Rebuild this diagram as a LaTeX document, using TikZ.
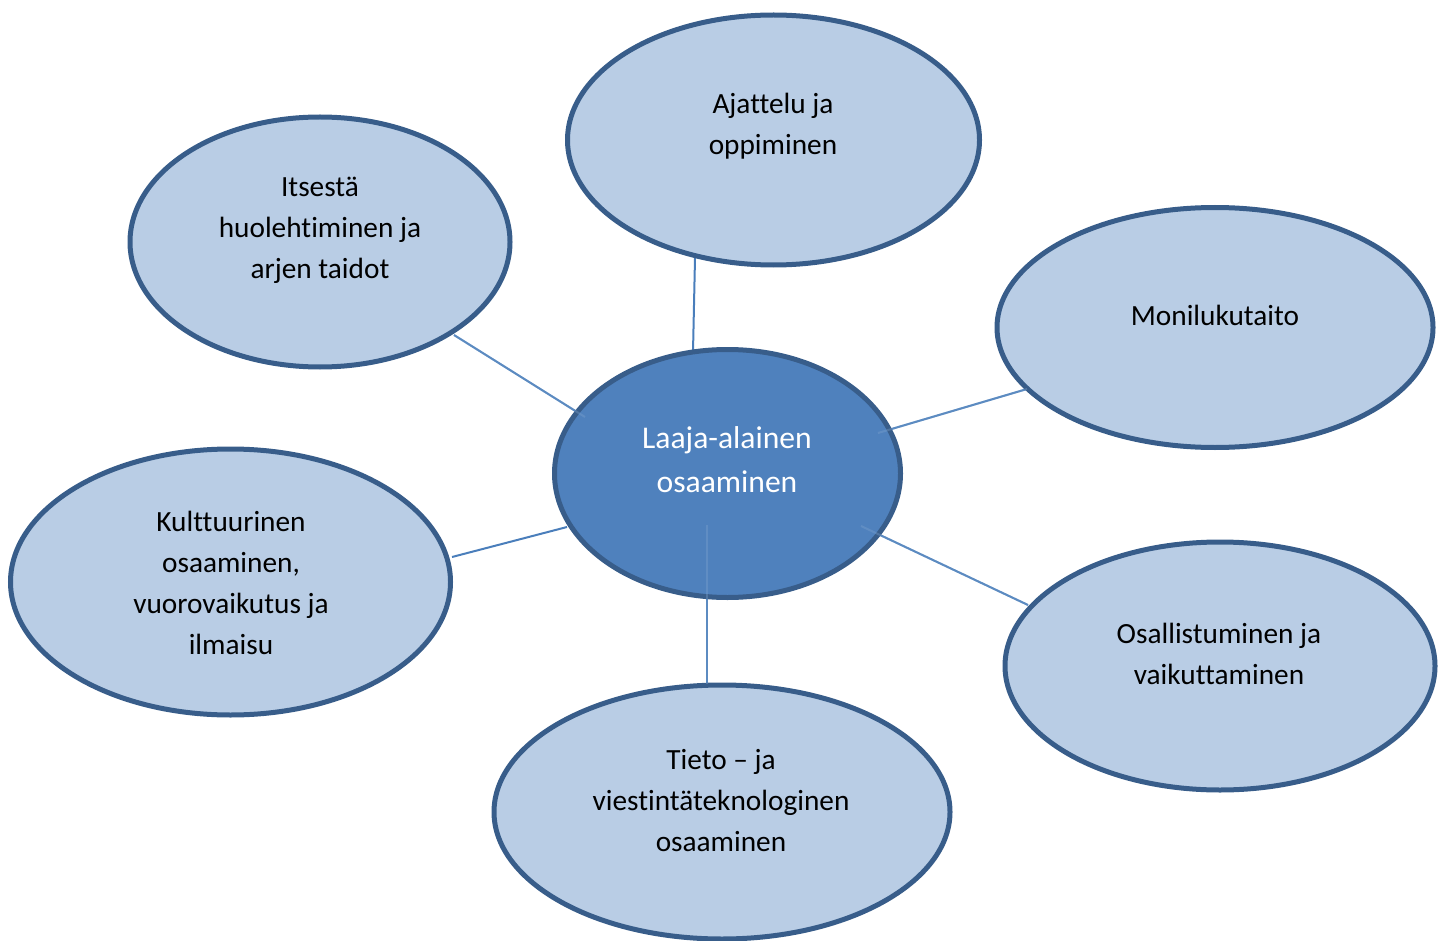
\documentclass[tikz,border=0pt]{standalone}
\usepackage{fontspec}
\setmainfont{Carlito}[Ligatures=NoCommon]
\usetikzlibrary{shapes.geometric}
\definecolor{lightfill}{HTML}{B9CDE5}
\definecolor{rimblue}{HTML}{385D8A}
\definecolor{hubfill}{HTML}{4F81BD}
\definecolor{linkblue}{HTML}{4A7EBB}
\tikzset{
  bubble/.style={ellipse, draw=rimblue, line width=5pt, fill=lightfill, inner sep=0pt},
  hub/.style={ellipse, draw=rimblue, line width=5pt, fill=hubfill, inner sep=0pt},
  label/.style={align=center, inner sep=0pt, font=\fontsize{29.3}{41}\selectfont, text=black},
  hublabel/.style={align=center, inner sep=0pt, font=\fontsize{31.6}{44}\selectfont, text=white},
  link/.style={draw=linkblue, line width=2pt},
  faintlink/.style={draw=linkblue!70!white, line width=2pt, draw opacity=0.35}
}
\begin{document}
\begin{tikzpicture}[x=1pt,y=-1pt]
\useasboundingbox (0,0) rectangle (1442,941);
\clip (0,0) rectangle (1442,941);
% connector end points
\coordinate (s1) at (693,352);
\coordinate (e1) at (695,258);
\coordinate (s2) at (585,417);
\coordinate (e2) at (454,335);
\coordinate (s3) at (878,433);
\coordinate (e3) at (1027,389);
\coordinate (s4) at (567,527);
\coordinate (e4) at (452,557);
\coordinate (s5) at (861,526);
\coordinate (e5) at (1028,605);
\coordinate (s6) at (707,525);
\coordinate (e6) at (707,684);
\draw[link] (s1) -- (e1);
\draw[link] (s2) -- (e2);
\draw[link] (s3) -- (e3);
\draw[link] (s4) -- (e4);
\draw[link] (s5) -- (e5);
\draw[link] (s6) -- (e6);
% outer bubbles
\node[bubble, minimum width=412pt, minimum height=250pt] (ajattelu) at (773.5,140) {};
\node[bubble, minimum width=380pt, minimum height=250pt] (itse) at (320,242) {};
\node[bubble, minimum width=436pt, minimum height=240pt] (moni) at (1215,327.5) {};
\node[bubble, minimum width=440pt, minimum height=266pt] (kult) at (230.5,582) {};
\node[bubble, minimum width=430pt, minimum height=248pt] (osall) at (1220,666) {};
\node[bubble, minimum width=456pt, minimum height=254pt] (tieto) at (722,812) {};
% hub
\node[hub, minimum width=346pt, minimum height=248pt] (hubnode) at (727.5,473.5) {};
% faint continuation of the connectors across the hub
\draw[faintlink] (s2) -- (e2);
\draw[faintlink] (s3) -- (e3);
\draw[faintlink] (s5) -- (e5);
\draw[faintlink] (s6) -- (e6);
% texts
\node[hublabel] (thub) at (727,460) {Laaja-alainen\\osaaminen};
\node[label] (tajattelu) at (773,126.5) {Ajattelu ja\\oppiminen};
\node[label] (titse) at (320,230.5) {Itsestä\\huolehtiminen ja\\arjen taidot};
\node[label] (tmoni) at (1215,315) {Monilukutaito};
\node[label] (tkult) at (231,582.5) {Kulttuurinen\\osaaminen,\\vuorovaikutus ja\\ilmaisu};
\node[label] (tosall) at (1219,653.5) {Osallistuminen ja\\vaikuttaminen};
\node[label] (ttieto) at (721,801) {Tieto – ja\\viestintäteknologinen\\osaaminen};
\end{tikzpicture}
\end{document}
